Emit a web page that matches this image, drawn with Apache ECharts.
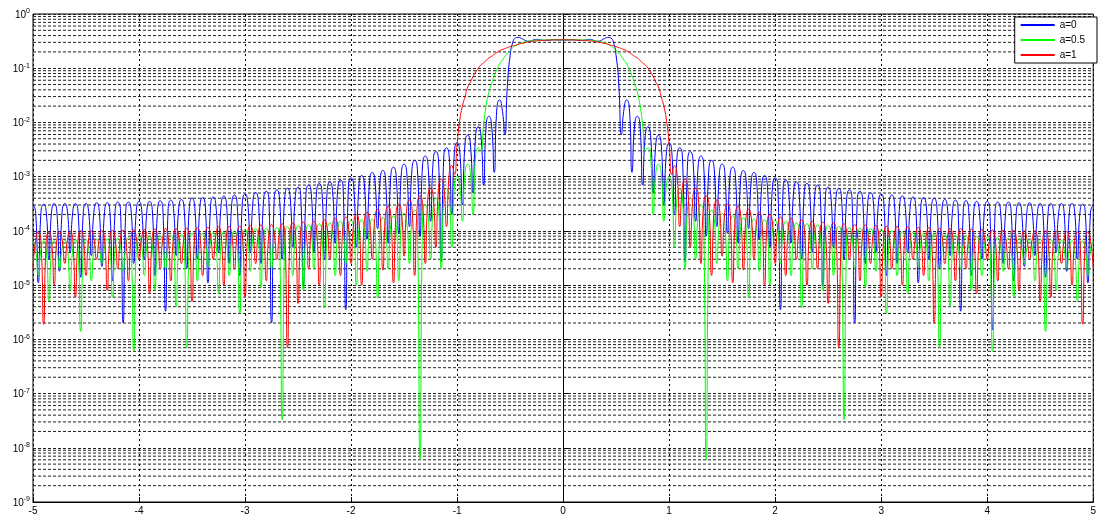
<!DOCTYPE html>
<html><head><meta charset="utf-8">
<script src="https://cdn.jsdelivr.net/npm/echarts@6/dist/echarts.min.js"></script>
<style>html,body{margin:0;padding:0;background:#fff}#c{width:1099px;height:519px}</style>
</head><body><div id="c"></div>
<script>
// frequency grid (normalised)
const freq = [
-5,-4.975,-4.95,-4.925,-4.9,-4.875,-4.85,-4.825,-4.8,-4.775,-4.75,-4.725,-4.7,-4.675,-4.65,-4.625,-4.6,-4.575,-4.55,-4.525,-4.5,-4.475,-4.45,-4.425,-4.4,-4.375,-4.35,-4.325,-4.3,-4.275,-4.25,-4.225,-4.2,-4.175,-4.15,-4.125,-4.1,-4.075,-4.05,-4.025,
-4,-3.975,-3.95,-3.925,-3.9,-3.875,-3.85,-3.825,-3.8,-3.775,-3.75,-3.725,-3.7,-3.675,-3.65,-3.625,-3.6,-3.575,-3.55,-3.525,-3.5,-3.475,-3.45,-3.425,-3.4,-3.375,-3.35,-3.325,-3.3,-3.275,-3.25,-3.225,-3.2,-3.175,-3.15,-3.125,-3.1,-3.075,-3.05,-3.025,
-3,-2.975,-2.95,-2.925,-2.9,-2.875,-2.85,-2.825,-2.8,-2.775,-2.75,-2.725,-2.7,-2.675,-2.65,-2.625,-2.6,-2.575,-2.55,-2.525,-2.5,-2.475,-2.45,-2.425,-2.4,-2.375,-2.35,-2.325,-2.3,-2.275,-2.25,-2.225,-2.2,-2.175,-2.15,-2.125,-2.1,-2.075,-2.05,-2.025,
-2,-1.975,-1.95,-1.925,-1.9,-1.875,-1.85,-1.825,-1.8,-1.775,-1.75,-1.725,-1.7,-1.675,-1.65,-1.625,-1.6,-1.575,-1.55,-1.525,-1.5,-1.475,-1.45,-1.425,-1.4,-1.375,-1.35,-1.325,-1.3,-1.275,-1.25,-1.225,-1.2,-1.175,-1.15,-1.125,-1.1,-1.075,-1.05,-1.025,
-1,-0.975,-0.95,-0.925,-0.9,-0.875,-0.85,-0.825,-0.8,-0.775,-0.75,-0.725,-0.7,-0.675,-0.65,-0.625,-0.6,-0.575,-0.55,-0.525,-0.5,-0.475,-0.45,-0.425,-0.4,-0.375,-0.35,-0.325,-0.3,-0.275,-0.25,-0.225,-0.2,-0.175,-0.15,-0.125,-0.1,-0.075,-0.05,-0.025,
0,0.025,0.05,0.075,0.1,0.125,0.15,0.175,0.2,0.225,0.25,0.275,0.3,0.325,0.35,0.375,0.4,0.425,0.45,0.475,0.5,0.525,0.55,0.575,0.6,0.625,0.65,0.675,0.7,0.725,0.75,0.775,0.8,0.825,0.85,0.875,0.9,0.925,0.95,0.975,
1,1.025,1.05,1.075,1.1,1.125,1.15,1.175,1.2,1.225,1.25,1.275,1.3,1.325,1.35,1.375,1.4,1.425,1.45,1.475,1.5,1.525,1.55,1.575,1.6,1.625,1.65,1.675,1.7,1.725,1.75,1.775,1.8,1.825,1.85,1.875,1.9,1.925,1.95,1.975,
2,2.025,2.05,2.075,2.1,2.125,2.15,2.175,2.2,2.225,2.25,2.275,2.3,2.325,2.35,2.375,2.4,2.425,2.45,2.475,2.5,2.525,2.55,2.575,2.6,2.625,2.65,2.675,2.7,2.725,2.75,2.775,2.8,2.825,2.85,2.875,2.9,2.925,2.95,2.975,
3,3.025,3.05,3.075,3.1,3.125,3.15,3.175,3.2,3.225,3.25,3.275,3.3,3.325,3.35,3.375,3.4,3.425,3.45,3.475,3.5,3.525,3.55,3.575,3.6,3.625,3.65,3.675,3.7,3.725,3.75,3.775,3.8,3.825,3.85,3.875,3.9,3.925,3.95,3.975,
4,4.025,4.05,4.075,4.1,4.125,4.15,4.175,4.2,4.225,4.25,4.275,4.3,4.325,4.35,4.375,4.4,4.425,4.45,4.475,4.5,4.525,4.55,4.575,4.6,4.625,4.65,4.675,4.7,4.725,4.75,4.775,4.8,4.825,4.85,4.875,4.9,4.925,4.95,4.975,
5];

// a=0 (blue)
const specA0 = [
3.1e-4,2.2e-4,1.1e-5,2.2e-4, 3.1e-4,2.2e-4,3e-5,2.25e-4, 3.2e-4,2.25e-4,1.8e-5,2.25e-4, 3.2e-4,2.25e-4,4e-5,2.25e-4, 3.2e-4,2.25e-4,1.4e-5,2.25e-4,
3.2e-4,2.25e-4,3.5e-5,2.3e-4, 3.3e-4,2.3e-4,2.2e-5,2.3e-4, 3.3e-4,2.3e-4,1.2e-5,2.4e-4, 3.4e-4,2.4e-4,2e-6,2.4e-4, 3.4e-4,2.4e-4,2.5e-5,2.45e-4,
3.5e-4,2.45e-4,3e-5,2.45e-4, 3.5e-4,2.45e-4,1.5e-5,2.5e-4, 3.6e-4,2.5e-4,3.3e-6,2.6e-4, 3.7e-4,2.6e-4,3.5e-5,2.65e-4, 3.8e-4,2.65e-4,2e-5,2.8e-4,
4e-4,2.8e-4,3e-5,2.9e-4, 4.1e-4,2.9e-4,1.1e-5,2.95e-4, 4.2e-4,2.95e-4,4e-5,3.1e-4, 4.4e-4,3.1e-4,2.5e-5,3.2e-4, 4.6e-4,3.2e-4,1.5e-5,3.4e-4,
4.8e-4,3.4e-4,4e-5,3.6e-4, 5.1e-4,3.6e-4,2.5e-5,3.8e-4, 5.4e-4,3.8e-4,2e-6,4e-4, 5.7e-4,4e-4,3e-5,4.3e-4, 6.1e-4,4.3e-4,5e-5,4.5e-4,
6.4e-4,4.5e-4,9.5e-6,4.9e-4, 7e-4,4.9e-4,4e-5,5.3e-4, 7.5e-4,5.3e-4,3e-5,5.6e-4, 8e-4,5.6e-4,6e-5,6.1e-4, 8.7e-4,6.1e-4,3.5e-6,6.7e-4,
9.5e-4,6.7e-4,5e-5,7.4e-4, 1.05e-3,7.4e-4,7e-5,8.4e-4, 1.2e-3,8.4e-4,1.1e-4,9.1e-4, 1.3e-3,9.1e-4,6e-5,1.05e-3, 1.5e-3,1.05e-3,9e-5,1.2e-3,
1.7e-3,1.2e-3,1.2e-4,1.4e-3, 2e-3,1.4e-3,8e-5,1.7e-3, 2.4e-3,1.7e-3,1.5e-4,2e-3, 2.9e-3,2e-3,2.7e-5,2.4e-3, 3.4e-3,2.4e-3,2e-4,2.9e-3,
4.2e-3,2.9e-3,3e-4,4.1e-3, 5.8e-3,4.1e-3,5e-4,5.8e-3, 8.3e-3,5.8e-3,7e-4,9.1e-3, 1.3e-2,9.1e-3,1.2e-3,1.8e-2, 2.6e-2,1.8e-2,6e-3,5e-2,
0.17,0.3,0.36,0.37,0.36,0.34,0.32,0.315,0.32,0.335,0.34,0.335,0.33,0.325,0.325,0.33,0.335,0.335,0.33,0.33,
0.335,
0.33,0.33,0.335,0.335,0.33,0.325,0.325,0.33,0.335,0.34,0.335,0.32,0.315,0.32,0.34,0.36,0.37,0.36,0.3,0.17,
5e-2,6e-3,1.8e-2,2.6e-2,
1.8e-2,1.2e-3,9.1e-3,1.3e-2, 9.1e-3,7e-4,5.8e-3,8.3e-3, 5.8e-3,5e-4,4.1e-3,5.8e-3, 4.1e-3,3e-4,2.9e-3,4.2e-3, 2.9e-3,2e-4,2.4e-3,3.4e-3,
2.4e-3,2.7e-5,2e-3,2.9e-3, 2e-3,1.5e-4,1.7e-3,2.4e-3, 1.7e-3,8e-5,1.4e-3,2e-3, 1.4e-3,1.2e-4,1.2e-3,1.7e-3, 1.2e-3,9e-5,1.05e-3,1.5e-3,
1.05e-3,6e-5,9.1e-4,1.3e-3, 9.1e-4,1.1e-4,8.4e-4,1.2e-3, 8.4e-4,7e-5,7.4e-4,1.05e-3, 7.4e-4,5e-5,6.7e-4,9.5e-4, 6.7e-4,3.5e-6,6.1e-4,8.7e-4,
6.1e-4,6e-5,5.6e-4,8e-4, 5.6e-4,3e-5,5.3e-4,7.5e-4, 5.3e-4,4e-5,4.9e-4,7e-4, 4.9e-4,9.5e-6,4.5e-4,6.4e-4, 4.5e-4,5e-5,4.3e-4,6.1e-4,
4.3e-4,3e-5,4e-4,5.7e-4, 4e-4,2e-6,3.8e-4,5.4e-4, 3.8e-4,2.5e-5,3.6e-4,5.1e-4, 3.6e-4,4e-5,3.4e-4,4.8e-4, 3.4e-4,1.5e-5,3.2e-4,4.6e-4,
3.2e-4,2.5e-5,3.1e-4,4.4e-4, 3.1e-4,4e-5,2.95e-4,4.2e-4, 2.95e-4,1.1e-5,2.9e-4,4.1e-4, 2.9e-4,3e-5,2.8e-4,4e-4, 2.8e-4,2e-5,2.65e-4,3.8e-4,
2.65e-4,3.5e-5,2.6e-4,3.7e-4, 2.6e-4,3.3e-6,2.5e-4,3.6e-4, 2.5e-4,1.5e-5,2.45e-4,3.5e-4, 2.45e-4,3e-5,2.45e-4,3.5e-4, 2.45e-4,1.5e-6,2.4e-4,3.4e-4,
2.4e-4,2.5e-5,2.4e-4,3.4e-4, 2.4e-4,1.2e-5,2.3e-4,3.3e-4, 2.3e-4,2.2e-5,2.3e-4,3.3e-4, 2.3e-4,3.5e-5,2.25e-4,3.2e-4, 2.25e-4,1.4e-5,2.25e-4,3.2e-4,
2.25e-4,4e-5,2.25e-4,3.2e-4, 2.25e-4,1.8e-5,2.25e-4,3.2e-4, 2.25e-4,3e-5,2.2e-4,3.1e-4, 2.2e-4,1.1e-5,2.2e-4,3.1e-4];

// a=0.5 (green)
const specA05 = [
6.4e-5,4.5e-5,1.5e-5,4.55e-5, 6.5e-5,4.55e-5,5e-6,4.6e-5, 6.6e-5,4.6e-5,2e-5,4.7e-5, 6.7e-5,4.7e-5,8e-6,4.75e-5, 6.8e-5,4.75e-5,1.4e-6,4.8e-5,
6.9e-5,4.8e-5,1.2e-5,4.9e-5, 7e-5,4.9e-5,2.5e-5,5e-5, 7.1e-5,5e-5,6e-6,5.1e-5, 7.3e-5,5.1e-5,1.8e-5,5.25e-5, 7.5e-5,5.25e-5,6e-7,5.4e-5,
7.7e-5,5.4e-5,1.5e-5,5.5e-5, 7.9e-5,5.5e-5,8e-6,5.7e-5, 8.1e-5,5.7e-5,2e-5,5.8e-5, 8.3e-5,5.8e-5,4e-6,6e-5, 8.5e-5,6e-5,7e-7,6.2e-5,
8.8e-5,6.2e-5,1.2e-5,6.3e-5, 9e-5,6.3e-5,2.2e-5,6.5e-5, 9.3e-5,6.5e-5,7e-6,6.7e-5, 9.6e-5,6.7e-5,1.5e-5,7e-5, 1e-4,7e-5,3e-6,7.4e-5,
1.05e-4,7.4e-5,1.8e-5,7.7e-5, 1.1e-4,7.7e-5,9e-6,7.8e-5, 1.12e-4,7.8e-5,2e-5,8e-5, 1.15e-4,8e-5,3.3e-8,8.4e-5, 1.2e-4,8.4e-5,1.5e-5,8.8e-5,
1.25e-4,8.8e-5,8e-6,9.1e-5, 1.3e-4,9.1e-5,2e-5,9.5e-5, 1.35e-4,9.5e-5,3.8e-6,9.8e-5, 1.4e-4,9.8e-5,1.5e-5,1.05e-4, 1.5e-4,1.05e-4,2.5e-5,1.1e-4,
1.55e-4,1.1e-4,1e-5,1.12e-4, 1.6e-4,1.12e-4,1.8e-5,1.15e-4, 1.65e-4,1.15e-4,5.8e-6,1.2e-4, 1.75e-4,1.2e-4,2e-5,1.3e-4, 1.9e-4,1.3e-4,1.2e-5,1.5e-4,
2.1e-4,1.5e-4,2.5e-5,1.7e-4, 2.4e-4,1.7e-4,6e-9,2.1e-4, 3e-4,2.1e-4,3e-5,2.8e-4, 4e-4,2.8e-4,2e-5,4.2e-4, 6e-4,4.2e-4,5e-5,7e-4,
1e-3,7e-4,1.5e-4,1.2e-3,
1.7e-3,1.2e-3,2e-4,2.4e-3,3.4e-3,3e-3,9e-3,2.1e-2,3.6e-2,5.2e-2,7.2e-2,9.5e-2,0.12,0.14,0.165,0.19,0.21,0.24,0.26,0.275,
0.29,0.3,0.31,0.315,0.32,0.325,0.33,0.331,0.332,0.333,0.334,0.334,0.335,0.335,0.335,0.335,
0.335,
0.335,0.335,0.335,0.335,0.334,0.334,0.333,0.332,0.331,0.33,0.325,0.32,0.315,0.31,0.3,0.29,
0.275,0.26,0.24,0.21,0.19,0.165,0.14,0.12,9.5e-2,7.2e-2,5.2e-2,3.6e-2,2.1e-2,9e-3,3e-3,3.4e-3,2.4e-3,2e-4,1.2e-3,1.7e-3,
1.2e-3,1.5e-4,7e-4,1e-3,
7e-4,5e-5,4.2e-4,6e-4, 4.2e-4,2e-5,2.8e-4,4e-4, 2.8e-4,3e-5,2.1e-4,3e-4, 2.1e-4,6e-9,1.7e-4,2.4e-4, 1.7e-4,2.5e-5,1.5e-4,2.1e-4,
1.5e-4,1.2e-5,1.3e-4,1.9e-4, 1.3e-4,2e-5,1.2e-4,1.75e-4, 1.2e-4,5.8e-6,1.15e-4,1.65e-4, 1.15e-4,1.8e-5,1.12e-4,1.6e-4, 1.12e-4,1e-5,1.1e-4,1.55e-4,
1.1e-4,2.5e-5,1.05e-4,1.5e-4, 1.05e-4,1.5e-5,9.8e-5,1.4e-4, 9.8e-5,3.8e-6,9.5e-5,1.35e-4, 9.5e-5,2e-5,9.1e-5,1.3e-4, 9.1e-5,8e-6,8.8e-5,1.25e-4,
8.8e-5,1.5e-5,8.4e-5,1.2e-4, 8.4e-5,3.3e-8,8e-5,1.15e-4, 8e-5,2e-5,7.8e-5,1.12e-4, 7.8e-5,9e-6,7.7e-5,1.1e-4, 7.7e-5,1.8e-5,7.4e-5,1.05e-4,
7.4e-5,3e-6,7e-5,1e-4, 7e-5,1.5e-5,6.7e-5,9.6e-5, 6.7e-5,7e-6,6.5e-5,9.3e-5, 6.5e-5,2.2e-5,6.3e-5,9e-5, 6.3e-5,1.2e-5,6.2e-5,8.8e-5,
6.2e-5,7e-7,6e-5,8.5e-5, 6e-5,4e-6,5.8e-5,8.3e-5, 5.8e-5,2e-5,5.7e-5,8.1e-5, 5.7e-5,8e-6,5.5e-5,7.9e-5, 5.5e-5,1.5e-5,5.4e-5,7.7e-5,
5.4e-5,6e-7,5.25e-5,7.5e-5, 5.25e-5,1.8e-5,5.1e-5,7.3e-5, 5.1e-5,6e-6,5e-5,7.1e-5, 5e-5,2.5e-5,4.9e-5,7e-5, 4.9e-5,1.2e-5,4.8e-5,6.9e-5,
4.8e-5,1.4e-6,4.75e-5,6.8e-5, 4.75e-5,8e-6,4.7e-5,6.7e-5, 4.7e-5,2e-5,4.6e-5,6.6e-5, 4.6e-5,5e-6,4.55e-5,6.5e-5, 4.55e-5,1.5e-5,4.5e-5,6.4e-5];

// a=1 (red)
const specA1 = [
2e-5,6.6e-5,9.5e-5,6.6e-5, 1.9e-6,6.6e-5,9.5e-5,6.6e-5, 1e-5,6.8e-5,9.7e-5,6.8e-5, 2.5e-5,6.9e-5,9.8e-5,6.9e-5, 6e-6,7e-5,1e-4,7e-5,
1.5e-5,7e-5,1e-4,7e-5, 3e-5,7e-5,1e-4,7e-5, 8e-6,7.1e-5,1.02e-4,7.1e-5, 2e-5,7.2e-5,1.03e-4,7.2e-5, 1.2e-5,7.4e-5,1.05e-4,7.4e-5,
3e-5,7.4e-5,1.06e-4,7.4e-5, 7e-6,7.6e-5,1.08e-4,7.6e-5, 2e-5,7.7e-5,1.1e-4,7.7e-5, 1.2e-5,7.7e-5,1.1e-4,7.7e-5, 2.5e-5,7.8e-5,1.12e-4,7.8e-5,
5e-6,8e-5,1.14e-4,8e-5, 1.5e-5,8.1e-5,1.16e-4,8.1e-5, 3e-5,8.3e-5,1.18e-4,8.3e-5, 1e-5,8.4e-5,1.2e-4,8.4e-5, 2e-5,8.5e-5,1.22e-4,8.5e-5,
6e-6,8.8e-5,1.25e-4,8.8e-5, 2.5e-5,9e-5,1.28e-4,9e-5, 1.2e-5,9.1e-5,1.3e-4,9.1e-5, 3e-5,9.5e-5,1.35e-4,9.5e-5, 7e-7,9.8e-5,1.4e-4,9.8e-5,
4.6e-6,1e-4,1.45e-4,1e-4, 2e-5,1.05e-4,1.5e-4,1.05e-4, 1e-5,1.1e-4,1.6e-4,1.1e-4, 3e-5,1.2e-4,1.7e-4,1.2e-4, 1.5e-5,1.26e-4,1.8e-4,1.26e-4,
2.5e-5,1.4e-4,2e-4,1.4e-4, 1e-5,1.5e-4,2.2e-4,1.5e-4, 3e-5,1.75e-4,2.5e-4,1.75e-4, 1.9e-5,2e-4,2.8e-4,2e-4, 1.1e-5,2.2e-4,3.1e-4,2.2e-4,
3.4e-5,2.6e-4,3.7e-4,2.6e-4, 1.5e-5,3.1e-4,4.4e-4,3.1e-4, 2.5e-5,4.3e-4,6.2e-4,4.3e-4, 5e-5,6.3e-4,9e-4,6.3e-4, 1.2e-4,1.1e-3,1.6e-3,1.1e-3,
4e-3,1.1e-2,2e-2,3e-2,4.5e-2,5.5e-2,7e-2,8.5e-2,0.1,0.115,0.125,0.14,0.155,0.165,0.18,0.195,0.21,0.22,0.23,0.24,
0.25,0.26,0.265,0.275,0.285,0.29,0.3,0.305,0.31,0.315,0.32,0.322,0.325,0.327,0.33,0.33,0.332,0.333,0.334,0.335,
0.335,
0.335,0.334,0.333,0.332,0.33,0.33,0.327,0.325,0.322,0.32,0.315,0.31,0.305,0.3,0.29,0.285,0.275,0.265,0.26,0.25,
0.24,0.23,0.22,0.21,0.195,0.18,0.165,0.155,0.14,0.125,0.115,0.1,8.5e-2,7e-2,5.5e-2,4.5e-2,3e-2,2e-2,1.1e-2,4e-3,
1.1e-3,1.6e-3,1.1e-3,1.2e-4, 6.3e-4,9e-4,6.3e-4,5e-5, 4.3e-4,6.2e-4,4.3e-4,2.5e-5, 3.1e-4,4.4e-4,3.1e-4,1.5e-5, 2.6e-4,3.7e-4,2.6e-4,3.4e-5,
2.2e-4,3.1e-4,2.2e-4,1.1e-5, 2e-4,2.8e-4,2e-4,1.9e-5, 1.75e-4,2.5e-4,1.75e-4,3e-5, 1.5e-4,2.2e-4,1.5e-4,1e-5, 1.4e-4,2e-4,1.4e-4,2.5e-5,
1.26e-4,1.8e-4,1.26e-4,1.5e-5, 1.2e-4,1.7e-4,1.2e-4,3e-5, 1.1e-4,1.6e-4,1.1e-4,1e-5, 1.05e-4,1.5e-4,1.05e-4,2e-5, 1e-4,1.45e-4,1e-4,4.6e-6,
9.8e-5,1.4e-4,9.8e-5,7e-7, 9.5e-5,1.35e-4,9.5e-5,3e-5, 9.1e-5,1.3e-4,9.1e-5,1.2e-5, 9e-5,1.28e-4,9e-5,2.5e-5, 8.8e-5,1.25e-4,8.8e-5,6e-6,
8.5e-5,1.22e-4,8.5e-5,2e-5, 8.4e-5,1.2e-4,8.4e-5,1e-5, 8.3e-5,1.18e-4,8.3e-5,3e-5, 8.1e-5,1.16e-4,8.1e-5,1.5e-5, 8e-5,1.14e-4,8e-5,2e-6,
7.8e-5,1.12e-4,7.8e-5,2.5e-5, 7.7e-5,1.1e-4,7.7e-5,1.2e-5, 7.7e-5,1.1e-4,7.7e-5,2e-5, 7.6e-5,1.08e-4,7.6e-5,7e-6, 7.4e-5,1.06e-4,7.4e-5,3e-5,
7.4e-5,1.05e-4,7.4e-5,1.2e-5, 7.2e-5,1.03e-4,7.2e-5,2e-5, 7.1e-5,1.02e-4,7.1e-5,8e-6, 7e-5,1e-4,7e-5,3e-5, 7e-5,1e-4,7e-5,5e-6,
7e-5,1e-4,7e-5,6e-6, 6.9e-5,9.8e-5,6.9e-5,2.5e-5, 6.8e-5,9.7e-5,6.8e-5,1e-5, 6.6e-5,9.5e-5,6.6e-5,1.9e-6, 6.6e-5,9.5e-5,6.6e-5,2e-5];

const seriesNames = ['a=0', 'a=0.5', 'a=1'];
const seriesColors = ['#0000ff', '#00ff00', '#ff0000'];

// minor log grid levels (2..9 x 10^n) and plot x range
const minorMantissas = [2, 3, 4, 5, 6, 7, 8, 9];
const decadeExponents = [-9, -8, -7, -6, -5, -4, -3, -2, -1];
const xRange = [-5, 5];

const pair = ys => freq.map((f, i) => [f, ys[i]]);
const FONT = 'Liberation Sans, Arial, sans-serif';

const gridSeries = [];
decadeExponents.forEach(e => minorMantissas.forEach(m => {
  const v = m * Math.pow(10, e);
  gridSeries.push({
    type: 'line', data: [[xRange[0], v], [xRange[1], v]], silent: true, z: 1,
    showSymbol: false, symbol: 'none', animation: false,
    lineStyle: {color: '#222', width: 1, type: [3, 2]}, emphasis: {disabled: true}
  });
}));

const chart = echarts.init(document.getElementById('c'), null, {renderer: 'canvas'});
chart.setOption({
  animation: false,
  backgroundColor: '#fff',
  grid: {left: 33, right: 2, top: 14, bottom: 17, show: true, borderColor: '#000', borderWidth: 1, backgroundColor: 'transparent'},
  legend: {
    data: seriesNames, orient: 'vertical', right: 2, top: 17,
    backgroundColor: '#fff', borderColor: '#000', borderWidth: 1, borderRadius: 0,
    padding: [2, 12, 2, 6], itemWidth: 34, itemHeight: 2, itemGap: 3, icon: 'rect',
    textStyle: {fontSize: 10, color: '#000', fontFamily: FONT, lineHeight: 12}
  },
  xAxis: {
    type: 'value', min: -5, max: 5, interval: 1,
    axisLine: {show: true, lineStyle: {color: '#000', width: 1}},
    axisTick: {show: true, inside: true, length: 5, lineStyle: {color: '#000'}},
    axisLabel: {color: '#000', fontSize: 10, fontFamily: FONT, margin: 4},
    splitLine: {show: true, lineStyle: {color: '#000', width: 1, type: [2, 3]}}
  },
  yAxis: {
    type: 'log', logBase: 10, min: 1e-9, max: 1, splitNumber: 9,
    axisLine: {show: true, lineStyle: {color: '#000', width: 1}},
    axisTick: {show: true, inside: true, length: 5, lineStyle: {color: '#000'}},
    axisLabel: {
      margin: 3,
      formatter: v => '{b|10}{e|' + Math.round(Math.log10(v)) + '}',
      rich: {
        b: {fontSize: 10, fontFamily: FONT, color: '#000', lineHeight: 12, verticalAlign: 'bottom'},
        e: {fontSize: 7, fontFamily: FONT, color: '#000', lineHeight: 12, verticalAlign: 'top'}
      }
    },
    splitLine: {show: true, lineStyle: {color: '#222', width: 1, type: [3, 2]}}
  },
  series: gridSeries.concat([
    {name: seriesNames[0], type: 'line', data: pair(specA0), showSymbol: false, symbol: 'none', silent: true, z: 3, smooth: 0.6,
     lineStyle: {color: seriesColors[0], width: 1}, itemStyle: {color: seriesColors[0]}},
    {name: seriesNames[1], type: 'line', data: pair(specA05), showSymbol: false, symbol: 'none', silent: true, z: 4, smooth: 0.6,
     lineStyle: {color: seriesColors[1], width: 1}, itemStyle: {color: seriesColors[1]}},
    {name: seriesNames[2], type: 'line', data: pair(specA1), showSymbol: false, symbol: 'none', silent: true, z: 5, smooth: 0.6,
     lineStyle: {color: seriesColors[2], width: 1}, itemStyle: {color: seriesColors[2]}}
  ])
});
</script>
</body></html>
